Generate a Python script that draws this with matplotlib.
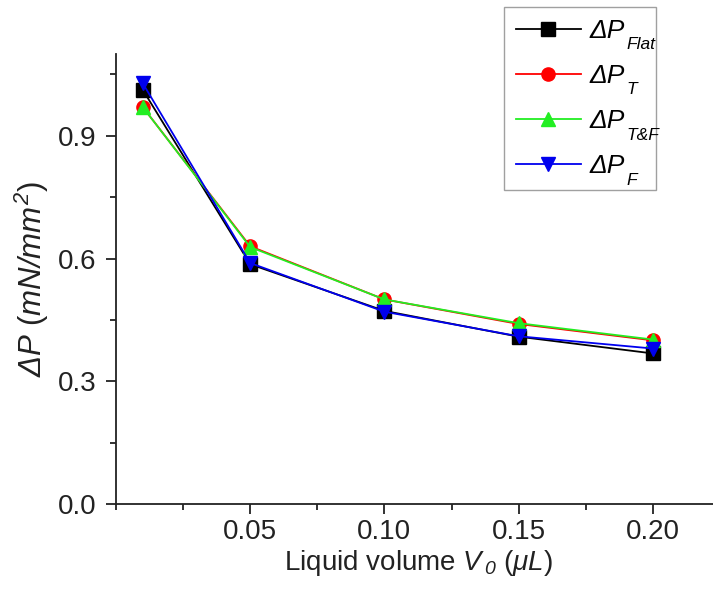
import matplotlib
matplotlib.use('Agg')
import matplotlib.pyplot as plt
from matplotlib.ticker import MultipleLocator, FormatStrFormatter

plt.rcParams['font.family'] = ['Liberation Sans', 'DejaVu Sans']
plt.rcParams['mathtext.fontset'] = 'custom'
plt.rcParams['mathtext.rm'] = 'Liberation Sans:italic'
plt.rcParams['mathtext.it'] = 'Liberation Sans:italic'

# дані
volume = [0.01, 0.05, 0.10, 0.15, 0.20]
dp_flat = [1.012, 0.586, 0.472, 0.409, 0.368]
dp_t = [0.970, 0.630, 0.500, 0.440, 0.400]
dp_tf = [0.970, 0.628, 0.500, 0.442, 0.402]
dp_f = [1.028, 0.589, 0.470, 0.410, 0.380]

subscripts = ['Flat', 'T', 'T&F', 'F']
colors = ['black', '#ff0000', '#22ee22', '#0000ee']
markers = ['s', 'o', '^', 'v']

W, H = 713, 604
fig = plt.figure(figsize=(W / 100, H / 100), dpi=100)
ax = fig.add_axes([0.1627, 0.1656, 0.847, 0.745])

series = [dp_flat, dp_t, dp_tf, dp_f]
handles = []
for vals, c, m in zip(series, colors, markers):
    h, = ax.plot(volume, vals, color=c, marker=m, markersize=9.5, lw=1.3,
                 clip_on=False)
    handles.append(h)

ax.set_xlim(0, 0.225)
ax.set_ylim(0, 1.1)
ax.xaxis.set_minor_locator(MultipleLocator(0.025))
ax.yaxis.set_major_locator(MultipleLocator(0.3))
ax.yaxis.set_minor_locator(MultipleLocator(0.15))
ax.set_xticks([0.05, 0.10, 0.15, 0.20])
ax.xaxis.set_major_formatter(FormatStrFormatter('%.2f'))
ax.yaxis.set_major_formatter(FormatStrFormatter('%.1f'))

ax.spines['top'].set_visible(False)
ax.spines['right'].set_visible(False)
for s in ['left', 'bottom']:
    ax.spines[s].set_linewidth(1.3)
    ax.spines[s].set_color('#222222')
ax.tick_params(which='major', direction='out', length=7, width=1.3,
               labelsize=20, colors='#222222', pad=4)
ax.tick_params(axis='y', which='major', pad=7)
ax.tick_params(which='minor', direction='out', length=4, width=1.3,
               colors='#222222')

ax.set_xlabel(r'Liquid volume $V_{\,0}$ ($μL$)', fontsize=20, labelpad=2,
              color='#222222')
ax.set_ylabel(r'$ΔP$ ($mN/mm^{2}$)', fontsize=22.5, labelpad=5,
              color='#222222')

# легенда: основний текст ΔP, індекси додаються окремо
leg_fs = 19
leg = fig.legend(handles=handles, labels=['ΔP'] * 4, loc='upper left',
                 bbox_to_anchor=(504 / W, 1 - 190 / H, 152 / W, 183 / H),
                 mode='expand', prop={'size': leg_fs, 'style': 'italic'},
                 frameon=True, fancybox=False, edgecolor='#888888',
                 handlelength=2.45, labelspacing=0.8, borderpad=0.45,
                 borderaxespad=0, handletextpad=0.35)
leg.get_frame().set_linewidth(1.0)

fig.canvas.draw()
renderer = fig.canvas.get_renderer()
descent = 0.212 * leg_fs * 100 / 72
for t, sub in zip(leg.get_texts(), subscripts):
    bb = t.get_window_extent(renderer)
    base = bb.y0 + descent
    fig.text((bb.x1 + 1) / W, (base - 12) / H, sub, fontsize=12.5,
             fontstyle='italic', va='baseline', ha='left', zorder=10)

fig.savefig('out.png', dpi=100)
